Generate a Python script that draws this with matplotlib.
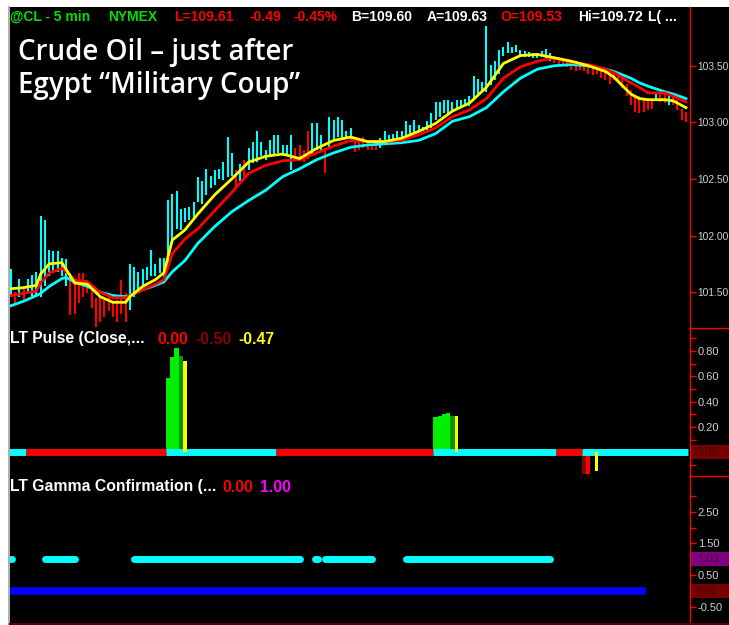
import matplotlib
matplotlib.use('Agg')
import matplotlib.pyplot as plt
from matplotlib.patches import Rectangle
from matplotlib.lines import Line2D
import matplotlib.transforms as mtrans

plt.rcParams['font.family'] = ['Liberation Sans', 'DejaVu Sans']

# ---------------- data ----------------
bar_high = [101.70, 101.50, 101.62, 101.55, 101.62, 101.65, 101.68, 102.17, 102.14, 101.87,
            101.86, 101.86, 101.80, 101.79, 101.67, 101.59, 101.67, 101.67, 101.61, 101.55,
            101.45, 101.46, 101.43, 101.46, 101.40, 101.43, 101.61, 101.49, 101.75, 101.72,
            101.68, 101.70, 101.72, 101.87, 101.75, 101.80, 101.80, 102.31, 102.37, 102.39,
            102.23, 102.24, 102.25, 102.30, 102.52, 102.48, 102.59, 102.53, 102.58, 102.59,
            102.65, 102.87, 102.73, 102.58, 102.63, 102.67, 102.77, 102.83, 102.92, 102.83,
            102.76, 102.84, 102.89, 102.89, 102.80, 102.80, 102.89, 102.77, 102.80, 102.76,
            102.92, 102.99, 102.99, 102.89, 102.77, 103.05, 103.02, 103.05, 103.02, 102.92,
            102.95, 102.86, 102.84, 102.87, 102.83, 102.81, 102.81, 102.86, 102.92, 102.89,
            102.90, 102.92, 102.92, 103.01, 102.98, 103.02, 102.98, 102.96, 103.01, 103.08,
            103.18, 103.18, 103.20, 103.20, 103.18, 103.20, 103.20, 103.21, 103.23, 103.41,
            103.38, 103.36, 103.85, 103.51, 103.54, 103.64, 103.67, 103.71, 103.67, 103.68,
            103.64, 103.63, 103.62, 103.61, 103.61, 103.63, 103.65, 103.61, 103.59, 103.58,
            103.57, 103.56, 103.54, 103.52, 103.52, 103.51, 103.49, 103.49, 103.49, 103.45,
            103.45, 103.43, 103.43, 103.43, 103.40, 103.34, 103.29, 103.24, 103.23, 103.20,
            103.20, 103.20, 103.26, 103.27, 103.26, 103.23, 103.24, 103.20, 103.12, 103.09]
bar_low = [101.46, 101.40, 101.46, 101.43, 101.50, 101.47, 101.46, 101.46, 101.55, 101.64,
           101.67, 101.68, 101.64, 101.55, 101.30, 101.31, 101.40, 101.46, 101.49, 101.36,
           101.19, 101.24, 101.28, 101.33, 101.28, 101.24, 101.31, 101.24, 101.34, 101.46,
           101.49, 101.55, 101.61, 101.64, 101.64, 101.67, 101.61, 101.70, 101.96, 102.06,
           102.05, 102.12, 102.14, 102.15, 102.30, 102.28, 102.36, 102.42, 102.45, 102.50,
           102.49, 102.52, 102.53, 102.41, 102.48, 102.52, 102.58, 102.64, 102.65, 102.70,
           102.67, 102.70, 102.71, 102.73, 102.70, 102.70, 102.58, 102.68, 102.67, 102.65,
           102.68, 102.71, 102.76, 102.74, 102.55, 102.78, 102.84, 102.87, 102.86, 102.86,
           102.83, 102.74, 102.76, 102.77, 102.76, 102.76, 102.76, 102.77, 102.81, 102.83,
           102.83, 102.84, 102.86, 102.87, 102.89, 102.90, 102.92, 102.92, 102.93, 102.95,
           103.02, 103.05, 103.08, 103.08, 103.09, 103.12, 103.13, 103.14, 103.14, 103.20,
           103.24, 103.27, 103.27, 103.33, 103.37, 103.43, 103.59, 103.61, 103.61, 103.62,
           103.59, 103.58, 103.58, 103.57, 103.57, 103.58, 103.57, 103.54, 103.52, 103.51,
           103.50, 103.49, 103.46, 103.45, 103.46, 103.45, 103.43, 103.42, 103.43, 103.39,
           103.37, 103.34, 103.37, 103.36, 103.30, 103.23, 103.15, 103.09, 103.08, 103.09,
           103.11, 103.12, 103.20, 103.18, 103.17, 103.15, 103.15, 103.11, 103.02, 103.00]
# C = up bar (cyan), R = down bar (red)
bar_dir = ("CRCRCCCCCCCCCC" + "RRRRRRRRRRRRRR" + "CCCCCCCCCCCCCCCCCCCCCCCCC" + "RCR"
           + "CCCCCCCCCCC" + "RRRR" + "CCC" + "R" + "CCCCCC" + "RRRRRR"
           + "CCCCCCCCCCCCCCCCCCCCCCCCCCCCCCCCCCCCCCCCC" + "RRRRRRRRRRRRRRRRRRRRRRRR"
           + "C" + "RR" + "C" + "RRRR")

ma_idx = [0, 3, 6, 7, 9, 12, 13, 15, 18, 21, 24, 27, 28, 31, 34, 36, 38, 41, 44, 48, 52, 56,
          60, 64, 68, 72, 76, 80, 84, 88, 92, 96, 100, 104, 108, 112, 116, 120, 124, 128,
          132, 136, 140, 142, 146, 148, 150, 154, 156, 159]
ma_fast = [101.53, 101.54, 101.56, 101.66, 101.75, 101.76, 101.70, 101.58, 101.57, 101.46,
           101.41, 101.41, 101.46, 101.55, 101.61, 101.67, 101.96, 102.05, 102.19, 102.36,
           102.50, 102.65, 102.70, 102.72, 102.68, 102.77, 102.84, 102.87, 102.83, 102.83,
           102.86, 102.92, 102.99, 103.10, 103.17, 103.31, 103.52, 103.59, 103.60, 103.57,
           103.54, 103.50, 103.45, 103.40, 103.25, 103.21, 103.20, 103.20, 103.19, 103.13]
ma_mid = [101.47, 101.49, 101.51, 101.58, 101.67, 101.71, 101.68, 101.61, 101.59, 101.50,
          101.45, 101.45, 101.47, 101.52, 101.57, 101.61, 101.84, 101.97, 102.06, 102.22,
          102.38, 102.55, 102.62, 102.66, 102.67, 102.73, 102.79, 102.84, 102.83, 102.83,
          102.84, 102.89, 102.95, 103.05, 103.11, 103.21, 103.39, 103.49, 103.54, 103.57,
          103.53, 103.51, 103.47, 103.44, 103.35, 103.31, 103.26, 103.26, 103.23, 103.18]
ma_slow = [101.38, 101.42, 101.47, 101.49, 101.55, 101.62, 101.63, 101.59, 101.55, 101.50,
           101.47, 101.46, 101.47, 101.52, 101.56, 101.59, 101.68, 101.78, 101.93, 102.08,
           102.21, 102.31, 102.40, 102.52, 102.59, 102.67, 102.73, 102.78, 102.80, 102.81,
           102.82, 102.84, 102.90, 103.01, 103.05, 103.13, 103.27, 103.39, 103.47, 103.50,
           103.51, 103.50, 103.47, 103.45, 103.39, 103.35, 103.32, 103.27, 103.25, 103.21]
price_ticks = [101.5, 102.0, 102.5, 103.0, 103.5]

# LT Pulse
pulse_seg_start = [0, 4, 37, 63, 100, 129, 135]
pulse_seg_end = [3, 36, 62, 99, 128, 134, 159]
pulse_seg_color = ['#00FFFF', '#FF0000', '#00FFFF', '#FF0000', '#00FFFF', '#FF0000', '#00FFFF']
pulse_hist_idx = [37, 38, 39, 40, 100, 101, 102, 103, 104, 135, 136]
pulse_hist_val = [0.59, 0.75, 0.82, 0.76, 0.28, 0.29, 0.30, 0.31, 0.29, -0.17, -0.17]
pulse_hist_color = ['#00EE00', '#00EE00', '#00EE00', '#009900', '#00EE00', '#00EE00',
                    '#00EE00', '#00EE00', '#009900', '#8B0000', '#FF0000']
pulse_sig_idx = [41, 105, 138]
pulse_sig_val = [0.72, 0.29, -0.145]
pulse_ticks = [0.2, 0.4, 0.6, 0.8]
pulse_minor = [-0.1, 0.1, 0.3, 0.5, 0.7, 0.9]

# LT Gamma Confirmation
gamma_on_start = [0, 8, 29, 72, 74, 93]
gamma_on_end = [0, 15, 68, 72, 85, 127]
gamma_base_start = 0
gamma_base_end = 149
gamma_ticks = [-0.5, 0.5, 1.5, 2.5]
gamma_minor = [2.0, 3.0]

# ---------------- layout ----------------
W, H = 729, 625
fig = plt.figure(figsize=(W / 100, H / 100), dpi=100, facecolor='white')


def fx(px):
    return px / W


def fy(py):
    return 1 - py / H


fig.add_artist(Rectangle((fx(9.5), 0), 1 - fx(9.5), fy(6.5), transform=fig.transFigure,
                         facecolor='black', edgecolor='none', zorder=0))
fig.add_artist(Line2D([fx(8.6), fx(8.6)], [0, fy(6.5)], color='#a8a8a8', lw=1.3,
                      transform=fig.transFigure))

X0, X1 = -0.236, 159.95


def make_ax(top, bottom, lsize=8):
    ax = fig.add_axes([fx(10), fy(bottom), fx(690) - fx(10), fy(top) - fy(bottom)])
    ax.set_facecolor('none')
    for s in ['top', 'left', 'bottom']:
        ax.spines[s].set_visible(False)
    ax.spines['right'].set_color('#FF0000')
    ax.spines['right'].set_linewidth(1.0)
    ax.set_xlim(X0, X1)
    ax.set_xticks([])
    ax.yaxis.tick_right()
    ax.tick_params(axis='y', which='both', colors='#FF0000', labelcolor='#d0d0d0',
                   length=4, width=1, pad=1.5, labelsize=lsize)
    return ax


ax_p = make_ax(7, 328, lsize=7.4)
ax_u = make_ax(328, 476)
ax_g = make_ax(476, 622)

# price panel
ax_p.set_ylim(101.183, 104.019)
idx = list(range(len(bar_high)))
cols = ['#00FFFF' if d == 'C' else '#FF0000' for d in bar_dir]
ax_p.vlines(idx, bar_low, bar_high, colors=cols, lw=1.5, zorder=2)
ax_p.plot(ma_idx, ma_slow, color='#00FFFF', lw=2.0, zorder=3)
ax_p.plot(ma_idx, ma_mid, color='#FF0000', lw=2.0, zorder=4)
ax_p.plot(ma_idx, ma_fast, color='#FFFF00', lw=2.0, zorder=5)
ax_p.set_yticks(price_ticks)
ax_p.set_yticklabels(['%.2f' % v for v in price_ticks])

# pulse panel
ax_u.set_ylim(-0.187, 0.981)
ax_u.bar(pulse_hist_idx, pulse_hist_val, width=1.0, color=pulse_hist_color, zorder=2)
for s, e, c in zip(pulse_seg_start, pulse_seg_end, pulse_seg_color):
    ax_u.plot([s - 0.5, e + 0.5], [0, 0], color=c, lw=5, solid_capstyle='butt', zorder=3)
ax_u.bar(pulse_sig_idx, pulse_sig_val, width=0.75, color='#FFFF00', zorder=4)
ax_u.set_yticks(pulse_ticks)
ax_u.set_yticklabels(['%.2f' % v for v in pulse_ticks])
ax_u.set_yticks(pulse_minor, minor=True)

# gamma panel
ax_g.set_ylim(-0.978, 3.63)
ax_g.plot([gamma_base_start - 0.5, gamma_base_end + 0.5], [0, 0], color='#0000FF', lw=5.5,
          solid_capstyle='butt', zorder=2)
for s, e in zip(gamma_on_start, gamma_on_end):
    xs = [s - 0.3, e + 0.3] if s == e else [s, e]
    ax_g.plot(xs, [1, 1], color='#00FFFF', lw=5, solid_capstyle='round', zorder=3)
ax_g.set_yticks(gamma_ticks)
ax_g.set_yticklabels(['%.2f' % v for v in gamma_ticks])
ax_g.set_yticks(gamma_minor, minor=True)


def value_box(ax, val, hpx, face, tcol, label, upp):
    tr = mtrans.blended_transform_factory(fig.transFigure, ax.transData)
    h = hpx / upp
    r = Rectangle((fx(690.5), val - h / 2), 1 - fx(690.5), h, transform=tr, facecolor=face,
                  edgecolor='none', clip_on=False, zorder=5)
    ax.add_patch(r)
    ax.text(fx(697), val, label, transform=tr, color=tcol, fontsize=8, va='center',
            ha='left', clip_on=False, zorder=6)


value_box(ax_u, 0.0, 14, '#780000', '#4a0000', '0.00', 126.7)
value_box(ax_g, 1.0, 14, '#800080', '#4a004a', '1.00', 31.7)
value_box(ax_g, 0.0, 14, '#780000', '#4a0000', '0.00', 31.7)

# separators in the axis column
for ypx in [328, 476]:
    fig.add_artist(Line2D([fx(690), 1], [fy(ypx), fy(ypx)], color='#FF0000', lw=1.0,
                          transform=fig.transFigure))
fig.add_artist(Line2D([fx(9.5), 1], [fy(624), fy(624)], color='#5a0000', lw=1.5,
                      transform=fig.transFigure))

# header texts
hdr = [(10, '@CL - 5 min', '#00E000'), (108, 'NYMEX', '#00E000'),
       (174, 'L=109.61', '#FF0000'), (250, '-0.49', '#FF0000'), (294, '-0.45%', '#FF0000'),
       (351, 'B=109.60', 'white'), (427, 'A=109.63', 'white'), (500, 'O=109.53', '#FF0000'),
       (578, 'Hi=109.72', 'white'), (648, 'L( ...', 'white')]
for xp, t, c in hdr:
    fig.text(fx(xp), fy(17), t, color=c, fontsize=10, fontweight='bold', va='center',
             ha='left')

pulse_hdr = [(10, 'LT Pulse (Close,...', 'white'), (157, '0.00', '#FF0000'),
             (195, '-0.50', '#8B0000'), (238, '-0.47', '#FFFF00')]
for xp, t, c in pulse_hdr:
    fig.text(fx(xp), fy(339), t, color=c, fontsize=11.3, fontweight='bold', va='center',
             ha='left')

gamma_hdr = [(10, 'LT Gamma Confirmation (...', 'white'), (222, '0.00', '#FF0000'),
             (260, '1.00', '#FF00FF')]
for xp, t, c in gamma_hdr:
    fig.text(fx(xp), fy(487), t, color=c, fontsize=11.3, fontweight='bold', va='center',
             ha='left')

# slide title
fig.text(fx(18), fy(60), 'Crude Oil \u2013 just after', color='white', fontsize=20,
         fontweight='semibold', family=['Open Sans', 'DejaVu Sans'], va='baseline',
         ha='left')
fig.text(fx(18), fy(93), 'Egypt \u201cMilitary Coup\u201d', color='white', fontsize=20,
         fontweight='semibold', family=['Open Sans', 'DejaVu Sans'], va='baseline',
         ha='left')

fig.savefig('out.png', dpi=100, facecolor='white')
